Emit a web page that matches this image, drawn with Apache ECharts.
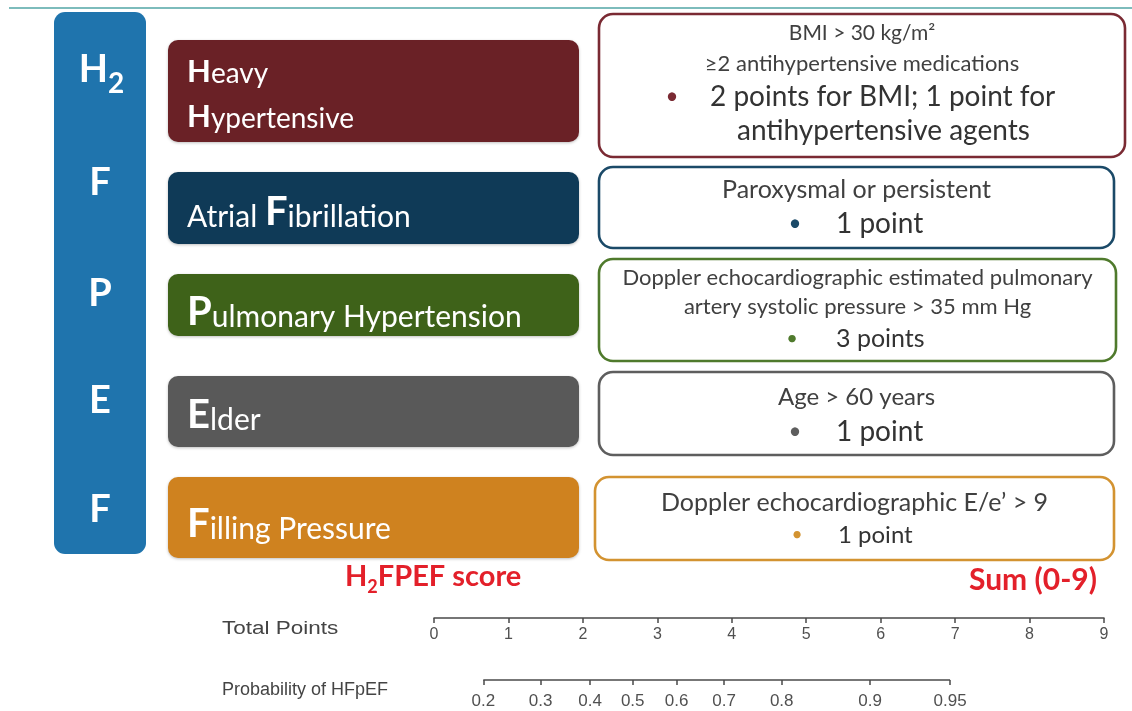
<!DOCTYPE html>
<html>
<head>
<meta charset="utf-8">
<script src="https://cdn.jsdelivr.net/npm/echarts@6/dist/echarts.min.js"></script>
<style>html,body{margin:0;padding:0;background:#fff;}#c{width:1132px;height:711px;}</style>
</head>
<body>
<div id="c"></div>
<script>
// ---------- data ----------
const acronymLetters = ['H', 'F', 'P', 'E', 'F'];
const acronymSub = ['2', '', '', '', ''];
const factorLines = [
  ['[H]eavy', '[H]ypertensive'],
  ['Atrial [F]ibrillation'],
  ['[P]ulmonary Hypertension'],
  ['[E]lder'],
  ['[F]illing Pressure']
];
const criteriaLines = [
  ['BMI > 30 kg/m²', '≥2 antihypertensive medications'],
  ['Paroxysmal or persistent'],
  ['Doppler echocardiographic estimated pulmonary', 'artery systolic pressure > 35 mm Hg'],
  ['Age > 60 years'],
  ['Doppler echocardiographic E/e’ > 9']
];
const pointLines = [
  ['2 points for BMI; 1 point for', 'antihypertensive agents'],
  ['1 point'],
  ['3 points'],
  ['1 point'],
  ['1 point']
];
const scoreTitle = ['H', '2', 'FPEF score'];
const sumTitle = 'Sum (0-9)';
const totalPointsName = 'Total Points';
const probabilityName = 'Probability of HFpEF';
const totalPointsMin = 0;
const totalPointsMax = 9;
const probLabels = ['0.2', '0.3', '0.4', '0.5', '0.6', '0.7', '0.8', '0.9', '0.95'];
// position of each probability tick on the Total Points scale
const probPos = [0.662, 1.433, 2.096, 2.669, 3.260, 3.896, 4.671, 5.857, 6.932];

// ---------- layout & style ----------
const FONT = 'Lato, "Open Sans", sans-serif';
const ARIAL = '"Liberation Sans", Arial, sans-serif';
const fillColors = ['#6a2126', '#0f3a57', '#3e6219', '#595959', '#cf821f'];
const borderColors = ['#7a2a33', '#1b4a68', '#4f7a2c', '#5e5e5e', '#d39331'];
const leftBoxes = [[168, 40, 411, 102], [168, 172, 411, 72], [168, 274, 411, 62], [168, 376, 411, 71], [168, 477, 411, 81]];
const rightBoxes = [[599, 14, 526, 143], [599, 167, 515, 81], [599, 259, 517, 102], [599, 372, 515, 83], [595, 477, 519, 83]];
const factorBaselines = [[82, 127], [225], [325], [428], [537]];
const factorBigFs = [31, 40, 40, 40, 40];
const factorSmallFs = [28, 30, 30, 30, 30];
const letterCenterY = [70, 183, 294, 401, 510];
const criteriaY = [[33, 64], [190], [278, 307], [397], [503]];
const criteriaSize = [[21, 22], [25], [22, 22], [24], [25]];
const pointsY = [[97, 131], [224], [339], [432], [535]];
const pointsSize = [28, 28, 25, 28, 24];
const bulletX = [672, 795, 792, 795, 797];
const pointsTextX = [[710, 737], [836], [836], [836], [838]];

const graphics = [];
// top teal rule
graphics.push({ type: 'line', shape: { x1: 9, y1: 8, x2: 1132, y2: 8 }, style: { stroke: '#7dbcbc', lineWidth: 2 } });
// blue acronym column
graphics.push({ type: 'rect', shape: { x: 54, y: 12, width: 92, height: 542, r: 11 }, style: { fill: '#1f74ad' } });

function richFactor(line) {
  return '{s|' + line.replace(/\[(.)\]/g, '}{b|$1}{s|') + '}';
}

for (let i = 0; i < 5; i++) {
  // acronym letter
  if (acronymSub[i]) {
    graphics.push({ type: 'text', style: { x: 108, y: letterCenterY[i], text: acronymLetters[i], align: 'right', verticalAlign: 'middle', fontFamily: FONT, fontWeight: 'bold', fontSize: 38, fill: '#fff' } });
    graphics.push({ type: 'text', style: { x: 108, y: letterCenterY[i] + 14, text: acronymSub[i], align: 'left', verticalAlign: 'middle', fontFamily: FONT, fontWeight: 'bold', fontSize: 28, fill: '#fff' } });
  } else {
    graphics.push({ type: 'text', style: { x: 100, y: letterCenterY[i], text: acronymLetters[i], align: 'center', verticalAlign: 'middle', fontFamily: FONT, fontWeight: 'bold', fontSize: 38, fill: '#fff' } });
  }
  // coloured factor box
  const lb = leftBoxes[i];
  graphics.push({ type: 'rect', shape: { x: lb[0], y: lb[1], width: lb[2], height: lb[3], r: 10 }, style: { fill: fillColors[i], shadowBlur: 3, shadowColor: 'rgba(0,0,0,0.25)', shadowOffsetY: 1 } });
  const bf = factorBigFs[i], sf = factorSmallFs[i], LH = bf + 2;
  const rich = {
    b: { fontSize: bf, lineHeight: LH, fontFamily: FONT, fontWeight: 'bold', fill: '#fff', verticalAlign: 'bottom' },
    s: { fontSize: sf, lineHeight: LH - 0.7 * (bf - sf), fontFamily: FONT, fill: '#fff', verticalAlign: 'bottom' }
  };
  factorLines[i].forEach((ln, k) => {
    graphics.push({
      type: 'text',
      style: { x: 187, y: factorBaselines[i][k] + LH / 2 - 0.35 * bf, text: richFactor(ln), align: 'left', verticalAlign: 'bottom', rich: rich }
    });
  });
  // outlined criteria box
  const rb = rightBoxes[i];
  graphics.push({ type: 'rect', shape: { x: rb[0], y: rb[1], width: rb[2], height: rb[3], r: 14 }, style: { fill: '#fff', stroke: borderColors[i], lineWidth: 2.6 } });
  const cx = rb[0] + rb[2] / 2;
  criteriaLines[i].forEach((ln, k) => {
    graphics.push({ type: 'text', style: { x: cx, y: criteriaY[i][k], text: ln, align: 'center', verticalAlign: 'middle', fontFamily: FONT, fontSize: criteriaSize[i][k], fill: '#404040' } });
  });
  graphics.push({ type: 'text', style: { x: bulletX[i], y: pointsY[i][0], text: '•', align: 'center', verticalAlign: 'middle', fontFamily: FONT, fontSize: pointsSize[i] * 0.8, fill: borderColors[i] } });
  pointLines[i].forEach((ln, k) => {
    graphics.push({ type: 'text', style: { x: pointsTextX[i][k], y: pointsY[i][k], text: ln, align: 'left', verticalAlign: 'middle', fontFamily: FONT, fontSize: pointsSize[i], fill: '#333' } });
  });
}

// red score titles
graphics.push({
  type: 'text',
  style: {
    x: 345, y: 596, text: '{a|' + scoreTitle[0] + '}{b|' + scoreTitle[1] + '}{a|' + scoreTitle[2] + '}', align: 'left', verticalAlign: 'bottom',
    rich: {
      a: { fontSize: 29, lineHeight: 34, fontFamily: FONT, fontWeight: 'bold', fill: '#e3202a', verticalAlign: 'top' },
      b: { fontSize: 18, lineHeight: 22, fontFamily: FONT, fontWeight: 'bold', fill: '#e3202a', verticalAlign: 'bottom' }
    }
  }
});
graphics.push({ type: 'text', style: { x: 1097, y: 580, text: sumTitle, align: 'right', verticalAlign: 'middle', fontFamily: FONT, fontSize: 30, fontWeight: 'bold', fill: '#e3202a' } });
// nomogram row names
graphics.push({ type: 'text', x: 222, y: 629, scaleX: 1.25, style: { x: 0, y: 0, text: totalPointsName, align: 'left', verticalAlign: 'middle', fontFamily: ARIAL, fontSize: 18, fill: '#444' } });
graphics.push({ type: 'text', x: 222, y: 690, scaleX: 1.0, style: { x: 0, y: 0, text: probabilityName, align: 'left', verticalAlign: 'middle', fontFamily: ARIAL, fontSize: 18, fill: '#444' } });

const axisColor = '#4a4a4a';
const labelStyle = { color: '#505050', fontSize: 16, fontFamily: ARIAL };

const option = {
  animation: false,
  backgroundColor: '#fff',
  grid: [
    { left: 434, width: 670, top: 598, height: 20 },
    { left: 434, width: 670, top: 660, height: 20 }
  ],
  xAxis: [
    {
      gridIndex: 0, type: 'value', min: totalPointsMin, max: totalPointsMax, interval: 1,
      axisLine: { lineStyle: { color: axisColor, width: 1.5 } },
      axisTick: { length: 5, lineStyle: { color: axisColor, width: 1.5 } },
      axisLabel: Object.assign({ margin: 9, showMinLabel: true, showMaxLabel: true }, labelStyle),
      splitLine: { show: false }
    },
    {
      gridIndex: 1, type: 'value', min: totalPointsMin, max: totalPointsMax,
      axisLine: { show: false },
      axisTick: { length: 5, customValues: probPos, lineStyle: { color: axisColor, width: 1.5 } },
      axisLabel: Object.assign({
        margin: 13, customValues: probPos,
        formatter: function (v) {
          const idx = probPos.findIndex(p => Math.abs(p - v) < 1e-6);
          return idx >= 0 ? probLabels[idx] : '';
        }
      }, labelStyle, { fontSize: 17 }),
      splitLine: { show: false }
    }
  ],
  yAxis: [
    { gridIndex: 0, type: 'value', min: 0, max: 1, show: false },
    { gridIndex: 1, type: 'value', min: 0, max: 1, show: false }
  ],
  series: [
    {
      type: 'line', xAxisIndex: 1, yAxisIndex: 1, clip: false, silent: true, symbol: 'none',
      data: [[probPos[0], 0], [probPos[probPos.length - 1], 0]],
      lineStyle: { color: axisColor, width: 1.5 }
    }
  ],
  graphic: graphics
};

const chart = echarts.init(document.getElementById('c'), null, { renderer: 'canvas' });
chart.setOption(option);
</script>
</body>
</html>
